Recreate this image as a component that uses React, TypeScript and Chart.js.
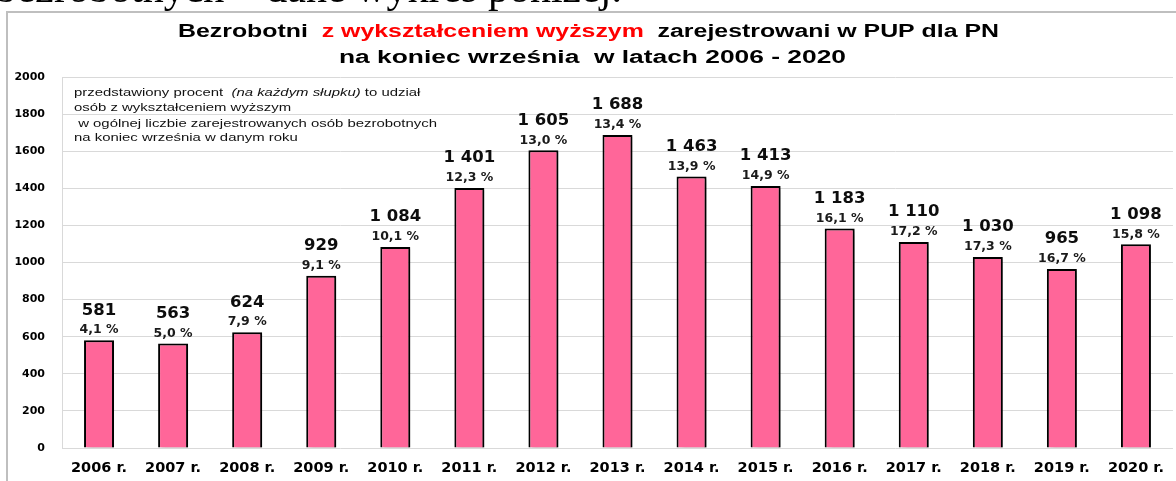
import React, { useEffect, useRef } from "react";
import { Chart, registerables } from "chart.js";

Chart.register(...registerables);

const categories = [
  "2006 r.", "2007 r.", "2008 r.", "2009 r.", "2010 r.", "2011 r.", "2012 r.", "2013 r.",
  "2014 r.", "2015 r.", "2016 r.", "2017 r.", "2018 r.", "2019 r.", "2020 r.",
];
const unemployedHigherEdu = [581, 563, 624, 929, 1084, 1401, 1605, 1688, 1463, 1413, 1183, 1110, 1030, 965, 1098];
const shareLabels = [
  "4,1 %", "5,0 %", "7,9 %", "9,1 %", "10,1 %", "12,3 %", "13,0 %", "13,4 %",
  "13,9 %", "14,9 %", "16,1 %", "17,2 %", "17,3 %", "16,7 %", "15,8 %",
];
const yMin = 0;
const yMax = 2000;
const yStep = 200;

const titleLine1Parts = [
  { text: "Bezrobotni  ", color: "#000000" },
  { text: "z wykształceniem wyższym", color: "#ff0000" },
  { text: "  zarejestrowani w PUP dla PN", color: "#000000" },
];
const titleLine2 = "na koniec września  w latach 2006 - 2020";
const noteLines = [
  [
    { text: "przedstawiony procent  ", italic: false },
    { text: "(na każdym słupku)", italic: true },
    { text: " to udział", italic: false },
  ],
  [{ text: "osób z wykształceniem wyższym", italic: false }],
  [{ text: " w ogólnej liczbie zarejestrowanych osób bezrobotnych", italic: false }],
  [{ text: "na koniec września w danym roku", italic: false }],
];
const pageText = "bezrobotnych – dane wykres poniżej.";

function fmtValue(v: number): string {
  if (v >= 1000) return `${Math.floor(v / 1000)} ${String(v % 1000).padStart(3, "0")}`;
  return String(v);
}

const decorPlugin = {
  id: "decor",
  beforeDraw(chart: any) {
    const ctx = chart.ctx as CanvasRenderingContext2D;
    ctx.save();
    ctx.fillStyle = "#ffffff";
    ctx.fillRect(0, 0, chart.width, chart.height);
    ctx.strokeStyle = "#bfbfbf";
    ctx.lineWidth = 2;
    ctx.strokeRect(7, 12, 1300, 700);
    ctx.restore();
  },
  beforeDatasetsDraw(chart: any) {
    const ctx = chart.ctx as CanvasRenderingContext2D;
    ctx.save();
    ctx.shadowColor = "rgba(0,0,0,0.35)";
    ctx.shadowOffsetX = 3;
    ctx.shadowOffsetY = 2;
    ctx.shadowBlur = 3;
  },
  afterDatasetsDraw(chart: any) {
    const ctx = chart.ctx as CanvasRenderingContext2D;
    ctx.restore();
    const meta = chart.getDatasetMeta(0);
    ctx.save();
    ctx.textAlign = "center";
    ctx.textBaseline = "middle";
    meta.data.forEach((el: any, i: number) => {
      ctx.fillStyle = "#0d0d0d";
      ctx.font = "bold 16.5px 'DejaVu Sans'";
      ctx.fillText(fmtValue(unemployedHigherEdu[i]), el.x, el.y - 30);
      ctx.fillStyle = "#1a1a1a";
      ctx.font = "bold 12.5px 'DejaVu Sans'";
      ctx.fillText(shareLabels[i], el.x, el.y - 10);
    });
    ctx.restore();
  },
  afterDraw(chart: any) {
    const ctx = chart.ctx as CanvasRenderingContext2D;
    ctx.save();
    // page text cut at top
    ctx.fillStyle = "#000";
    ctx.font = "42px 'Liberation Serif'";
    ctx.textAlign = "right";
    ctx.textBaseline = "alphabetic";
    ctx.fillText(pageText, 622, 2);

    // title
    ctx.textAlign = "left";
    ctx.font = "bold 18px 'Liberation Sans'";
    const w1 = titleLine1Parts.reduce((s, p) => s + ctx.measureText(p.text).width, 0);
    const s1 = (999 - 178) / w1;
    ctx.save();
    ctx.translate(178, 37);
    ctx.scale(s1, 1);
    let x = 0;
    titleLine1Parts.forEach((p) => {
      ctx.fillStyle = p.color;
      ctx.fillText(p.text, x, 0);
      x += ctx.measureText(p.text).width;
    });
    ctx.restore();
    const w2 = ctx.measureText(titleLine2).width;
    const s2 = (846 - 339) / w2;
    ctx.save();
    ctx.translate(339, 63);
    ctx.scale(s2, 1);
    ctx.fillStyle = "#000";
    ctx.fillText(titleLine2, 0, 0);
    ctx.restore();

    // note
    const noteFont = (it: boolean) => `${it ? "italic " : ""}10.5px 'Liberation Sans'`;
    ctx.font = noteFont(false);
    const ref = noteLines[2].map((p) => p.text).join("");
    const sn = (437 - 74) / ctx.measureText(ref).width;
    const baselines = [96, 111, 127, 141];
    noteLines.forEach((line, li) => {
      ctx.save();
      ctx.translate(74, baselines[li]);
      ctx.scale(sn, 1);
      ctx.fillStyle = "#111111";
      let xx = 0;
      line.forEach((p) => {
        ctx.font = noteFont(p.italic);
        ctx.fillText(p.text, xx, 0);
        xx += ctx.measureText(p.text).width;
      });
      ctx.restore();
    });
    ctx.restore();
  },
};

export default function App() {
  const canvasRef = useRef<HTMLCanvasElement | null>(null);

  useEffect(() => {
    document.body.style.margin = "0";
    const canvas = canvasRef.current;
    if (!canvas) return;
    const chart = new Chart(canvas, {
      type: "bar",
      data: {
        labels: categories,
        datasets: [
          {
            data: unemployedHigherEdu,
            backgroundColor: "#ff6699",
            borderColor: "#000000",
            borderWidth: 2,
            categoryPercentage: 1,
            barPercentage: 0.405,
          },
        ],
      },
      options: {
        animation: false,
        responsive: false,
        devicePixelRatio: 1,
        layout: { padding: { top: 77, right: 2, left: 0, bottom: 0 } },
        plugins: {
          legend: { display: false },
          title: { display: false },
          tooltip: { enabled: false },
        },
        scales: {
          x: {
            grid: { display: false, drawTicks: false },
            border: { display: false },
            ticks: {
              color: "#000",
              font: { family: "'DejaVu Sans'", size: 14.5, weight: "bold" },
              padding: 12,
              maxRotation: 0,
              autoSkip: false,
            },
            afterFit: (axis: any) => {
              axis.height = 33;
            },
          },
          y: {
            min: yMin,
            max: yMax,
            grid: { color: "#d9d9d9", lineWidth: 1, drawTicks: false },
            border: { display: true, color: "#d9d9d9", width: 1 },
            ticks: {
              stepSize: yStep,
              color: "#000",
              font: { family: "'DejaVu Sans'", size: 11, weight: "bold" },
              padding: 17,
              callback: (v: any) => String(v),
            },
            afterFit: (axis: any) => {
              axis.width = 62;
            },
          },
        },
      },
      plugins: [decorPlugin],
    } as any);
    return () => chart.destroy();
  }, []);

  return (
    <div style={{ position: "relative", width: 1176, height: 481, overflow: "hidden", background: "#fff" }}>
      <canvas ref={canvasRef} width={1176} height={481} style={{ display: "block" }} />
    </div>
  );
}
